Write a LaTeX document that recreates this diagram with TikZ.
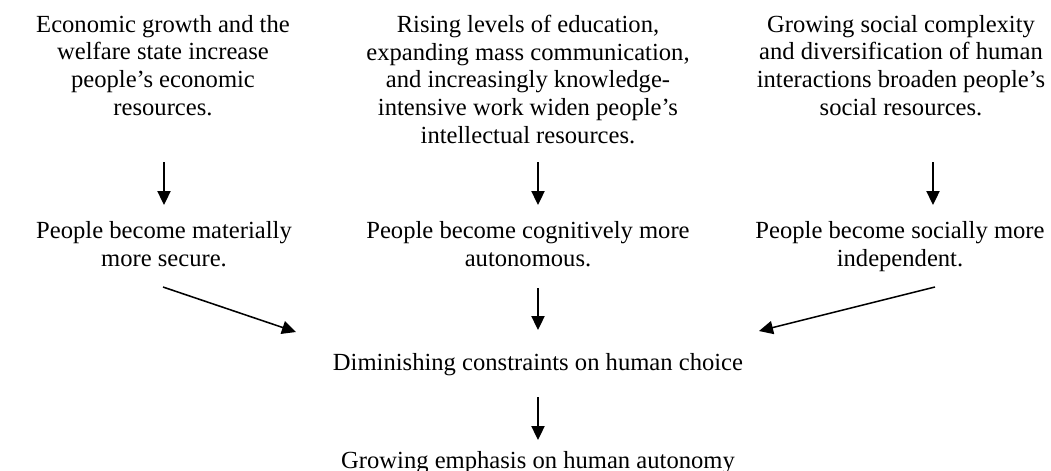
\documentclass[tikz,border=0pt]{standalone}
\usepackage{fontspec}
\setmainfont{Liberation Serif}
\usetikzlibrary{arrows.meta}

\tikzset{
  txt/.style={align=center, anchor=base, inner sep=0pt,
    font=\fontsize{17.5}{19.63}\selectfont},
  arr/.style={line width=1.1pt, -{Triangle[length=0.35cm, width=0.33cm]}}
}

\begin{document}
\begin{tikzpicture}[x=0.025cm, y=-0.025cm]
  \useasboundingbox[fill=white] (0,0) rectangle (1051,470);
  % Resources
  \node[txt] (econ) at (163,115) {Economic growth and the\\welfare state increase\\people’s economic\\resources.};
  \node[txt] (edu) at (528,143) {Rising levels of education,\\expanding mass communication,\\and increasingly knowledge-\\intensive work widen people’s\\intellectual resources.};
  \node[txt] (soc) at (901,115) {Growing social complexity\\and diversification of human\\interactions broaden people’s\\social resources.};
  % Effects
  \node[txt] (secure) at (164,266) {People become materially\\more secure.};
  \node[txt] (cog) at (528,266) {People become cognitively more\\autonomous.};
  \node[txt] (indep) at (900,266) {People become socially more\\independent.};
  % Outcome
  \node[txt] (dimin) at (538,370) {Diminishing constraints on human choice};
  \node[txt] (grow) at (538,468) {Growing emphasis on human autonomy};
  % Arrows
  \draw[arr] ([shift={(1,47)}]econ.base) -- ([shift={(0,-61)}]secure.base);
  \draw[arr] ([shift={(10,19)}]edu.base) -- ([shift={(10,-61)}]cog.base);
  \draw[arr] ([shift={(32,47)}]soc.base) -- ([shift={(33,-61)}]indep.base);
  \draw[arr] ([shift={(-1,21)}]secure.base) -- ([shift={(-242,-38)}]dimin.base);
  \draw[arr] ([shift={(10,22)}]cog.base) -- ([shift={(0,-40)}]dimin.base);
  \draw[arr] ([shift={(35,21)}]indep.base) -- ([shift={(221,-39)}]dimin.base);
  \draw[arr] ([shift={(0,27)}]dimin.base) -- ([shift={(0,-28)}]grow.base);
\end{tikzpicture}
\end{document}
